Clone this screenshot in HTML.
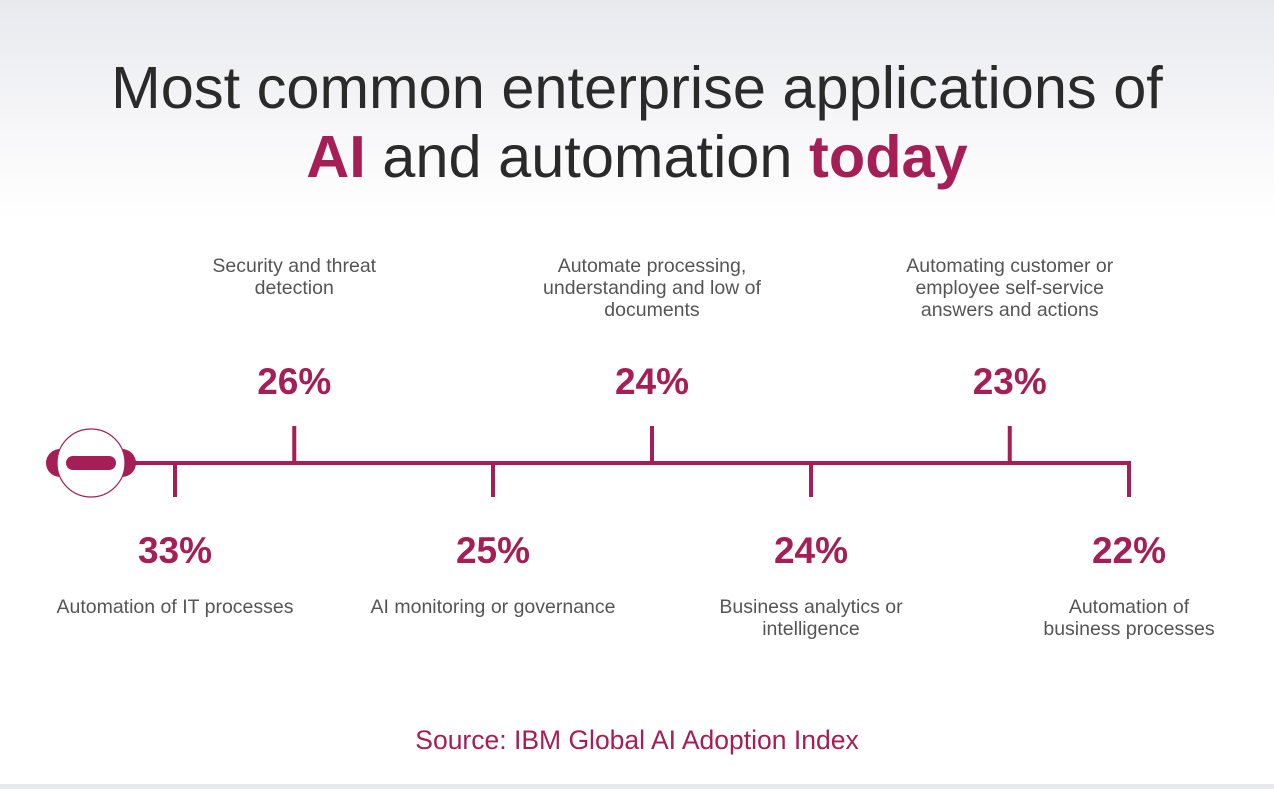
<!DOCTYPE html>
<html><head><meta charset="utf-8"><style>
body{margin:0;width:1274px;height:784px;overflow:hidden;font-family:"Liberation Sans",sans-serif;background:linear-gradient(#e8e9ee 0px,#f6f6f8 120px,#fff 220px);}
</style></head><body>
<svg width="1274" height="784">
<text x="637" y="108" text-anchor="middle" font-size="59.5" fill="#2a2a2a">Most common enterprise applications of</text>
<text x="637" y="177" text-anchor="middle" font-size="59.5" fill="#2a2a2a"><tspan font-weight="bold" fill="#a51e55">AI</tspan> and automation <tspan font-weight="bold" fill="#a51e55">today</tspan></text>
<g>
<circle cx="60" cy="463" r="14" fill="#a51e55"/>
<circle cx="122" cy="463" r="14" fill="#a51e55"/>
<circle cx="91" cy="463" r="34" fill="#fff" stroke="#a51e55" stroke-width="1.2"/>
<rect x="66" y="456" width="50" height="14" rx="7" fill="#a51e55"/>
</g>
<line x1="135" y1="463" x2="1131" y2="463" stroke="#a51e55" stroke-width="4"/>
<g id="marks"></g>
<text x="637" y="749" text-anchor="middle" font-size="26.5" fill="#a51e55">Source: IBM Global AI Adoption Index</text>
</svg>
<script>
const categories=[["Automation of IT processes"],["Security and threat","detection"],["AI monitoring or governance"],["Automate processing,","understanding and low of","documents"],["Business analytics or","intelligence"],["Automating customer or","employee self-service","answers and actions"],["Automation of","business processes"]];
const values=[33,26,25,24,24,23,22];
const sides=["down","up","down","up","down","up","down"];
const slots=[0,0.6,1.6,2.4,3.2,4.2,4.8];
const xs=s=>175+s*(1129-175)/4.8;
const g=document.getElementById('marks');
const NS="http://www.w3.org/2000/svg";
function mk(t,a){const e=document.createElementNS(NS,t);for(const k in a)e.setAttribute(k,a[k]);g.appendChild(e);return e;}
values.forEach((v,i)=>{
 const x=xs(slots[i]);const up=sides[i]==="up";
 const l=mk('line',{x1:x,x2:x,y1:463,y2:up?426:497,stroke:'#a51e55','stroke-width':4});
 
 
 const p=mk('text',{x:x,y:up?394:563,'text-anchor':'middle','font-size':37,'font-weight':'bold',fill:'#a51e55'});
 p.textContent=v+'%';
 
 
 const lines=categories[i];
 lines.forEach((ln,j)=>{
  const y=up?(272+j*22):(613+j*22);
  const t=mk('text',{x:x,y:y,'text-anchor':'middle','font-size':19.5,fill:'#555'});
  t.textContent=ln;
  
  
 });
});
</script>
</body></html>
